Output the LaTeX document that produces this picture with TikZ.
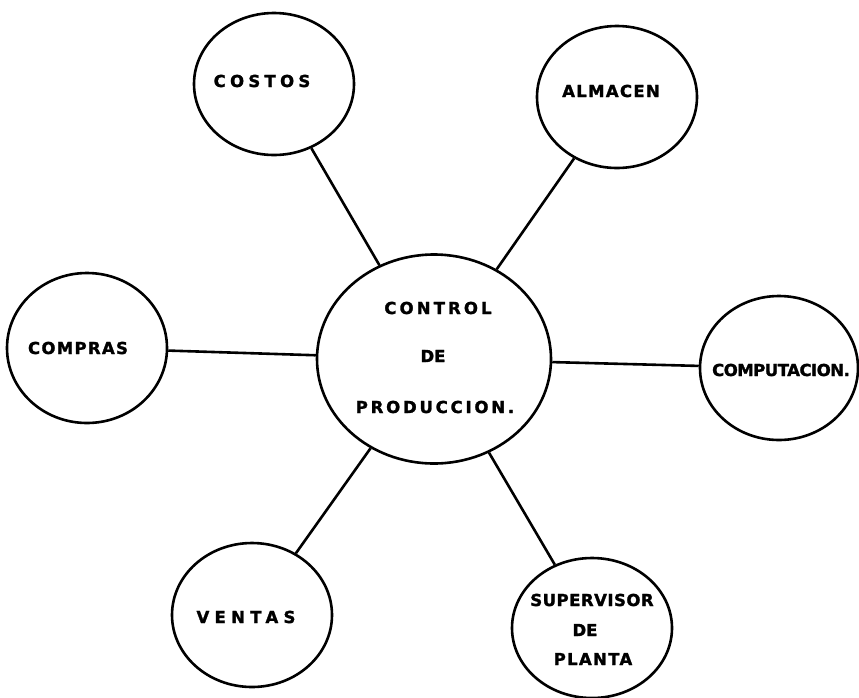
\documentclass[tikz,border=0pt]{standalone}
\usepackage{fontspec}
\usepackage{tikz}
\usetikzlibrary{shapes.geometric}
\newfontfamily\lblfont[FakeBold=1.6]{DejaVu Sans Bold}

\begin{document}
\begin{tikzpicture}[x=1pt, y=-1pt, line width=2.6pt,
  dept/.style={ellipse, draw, inner sep=0pt, minimum width=160pt, minimum height=142pt},
  lbl/.style={inner sep=0pt, font=\lblfont\fontsize{16.5}{19}\selectfont\addfontfeature{LetterSpace=#1}}]

\useasboundingbox (0,0) rectangle (859,697);

% Circles
\node[dept, minimum width=234pt, minimum height=209pt] (ctrl) at (434, 359) {};
\node[dept] (costos) at (274, 84) {};
\node[dept] (almacen) at (617, 97) {};
\node[dept, minimum height=150pt] (compras) at (87, 348) {};
\node[dept, minimum width=158pt, minimum height=144pt] (comput) at (779, 368) {};
\node[dept, minimum height=144pt] (ventas) at (252, 615) {};
\node[dept, minimum height=140pt] (superv) at (592, 628) {};

% Texts
\node[lbl=19] (ctrl-a) at (438, 308) {CONTROL};
\node[lbl=0] (ctrl-b) at (433, 356) {DE};
\node[lbl=17] (ctrl-c) at (435, 407) {PRODUCCION.};
\node[lbl=26] (costos-t) at (262, 81) {COSTOS};
\node[lbl=8] (almacen-t) at (611, 91) {ALMACEN};
\node[lbl=8] (compras-t) at (78, 348) {COMPRAS};
\node[lbl=-3] (comput-t) at (781, 370) {COMPUTACION.};
\node[lbl=32] (ventas-t) at (246, 617) {VENTAS};
\node[lbl=3] (superv-a) at (592, 600) {SUPERVISOR};
\node[lbl=0] (superv-b) at (585, 630) {DE};
\node[lbl=8] (superv-c) at (593, 659) {PLANTA};

% Connectors
\draw (ctrl) -- (costos);
\draw (ctrl) -- (almacen);
\draw (ctrl) -- (compras);
\draw (ctrl) -- (comput);
\draw (ctrl) -- (ventas);
\draw (ctrl) -- (superv);
\end{tikzpicture}
\end{document}
